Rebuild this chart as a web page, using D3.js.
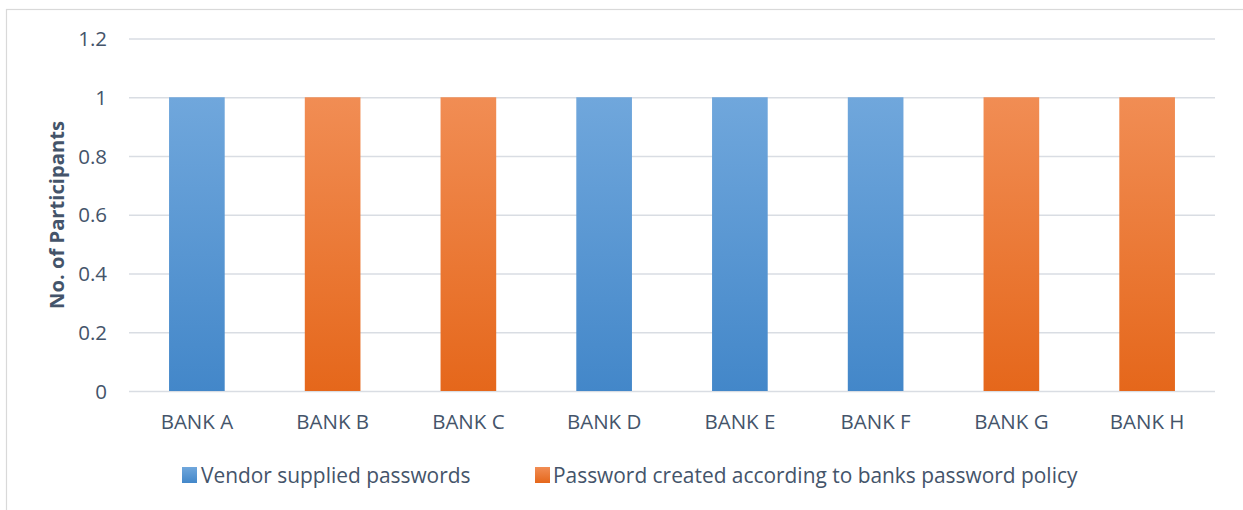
<!DOCTYPE html>
<html>
<head>
<meta charset="utf-8">
<script src="https://cdn.jsdelivr.net/npm/d3@7"></script>
<style>
  html, body { margin: 0; padding: 0; background: #fff; }
  svg { display: block; }
  text { font-family: "Open Sans", "Noto Sans", sans-serif; fill: #44546a; }
</style>
</head>
<body>
<svg id="chart" width="1243" height="510"></svg>
<script>
// Categories and series
const banks = ["BANK A", "BANK B", "BANK C", "BANK D", "BANK E", "BANK F", "BANK G", "BANK H"];
const seriesNames = ["Vendor supplied passwords", "Password created according to banks password policy"];
// which series each bank belongs to (0 = vendor, 1 = bank policy)
const bankSeries = [0, 1, 1, 0, 0, 0, 1, 1];
const participants = [1, 1, 1, 1, 1, 1, 1, 1];
const yTicks = [0, 0.2, 0.4, 0.6, 0.8, 1, 1.2];
const yTitle = "No. of Participants";

const svg = d3.select("#chart");
const W = 1243, H = 510;

// outer chart frame
svg.append("rect")
  .attr("x", 6.5).attr("y", 9.5)
  .attr("width", W + 10).attr("height", H + 10)
  .attr("fill", "#fff").attr("stroke", "#d9d9d9").attr("stroke-width", 1.2);

const plot = { left: 129, right: 1215, top: 38.5, bottom: 391 };

const x = d3.scaleBand()
  .domain(banks)
  .range([plot.left, plot.right])
  .paddingInner(0.59)
  .paddingOuter(0.295);

const y = d3.scaleLinear()
  .domain([0, 1.2])
  .range([plot.bottom, plot.top]);

// gradients
const defs = svg.append("defs");
const grads = [
  { id: "g0", top: "#70a7dc", bottom: "#4387c9" },
  { id: "g1", top: "#f18d54", bottom: "#e5671b" }
];
grads.forEach(g => {
  const lg = defs.append("linearGradient")
    .attr("id", g.id)
    .attr("gradientUnits", "userSpaceOnUse")
    .attr("x1", 0).attr("x2", 0)
    .attr("y1", y(1)).attr("y2", y(0));
  lg.append("stop").attr("offset", "0%").attr("stop-color", g.top);
  lg.append("stop").attr("offset", "100%").attr("stop-color", g.bottom);
});

// gridlines
const yAxis = d3.axisLeft(y)
  .tickValues(yTicks)
  .tickSize(-(plot.right - plot.left))
  .tickPadding(22)
  .tickFormat(d => d3.format("~g")(d));

const ga = svg.append("g")
  .attr("transform", `translate(${plot.left},0)`)
  .call(yAxis);
ga.select(".domain").remove();
ga.selectAll(".tick line")
  .attr("stroke", "#d9dde3").attr("stroke-width", 1.6);
ga.selectAll(".tick text")
  .attr("font-size", 20.5)
  .attr("fill", "#44546a")
  .attr("dy", "0.35em");

// bars
svg.append("g").selectAll("rect")
  .data(banks)
  .join("rect")
  .attr("x", d => x(d))
  .attr("width", x.bandwidth())
  .attr("y", (d, i) => y(participants[i]))
  .attr("height", (d, i) => y(0) - y(participants[i]))
  .attr("fill", (d, i) => `url(#g${bankSeries[i]})`);

// x axis labels
const xAxis = d3.axisBottom(x).tickSize(0).tickPadding(23);
const gx = svg.append("g")
  .attr("transform", `translate(0,${plot.bottom})`)
  .call(xAxis);
gx.select(".domain").remove();
gx.selectAll(".tick text")
  .attr("font-size", 20.5)
  .attr("fill", "#44546a");

// y axis title
svg.append("text")
  .attr("transform", `translate(64,215) rotate(-90)`)
  .attr("text-anchor", "middle")
  .attr("font-size", 20.2)
  .attr("font-weight", "bold")
  .text(yTitle);

// legend
const legendItems = [
  { name: seriesNames[0], sx: 182, tx: 201 },
  { name: seriesNames[1], sx: 535, tx: 553 }
];
const lg = svg.append("g");
legendItems.forEach((d, i) => {
  lg.append("rect")
    .attr("x", d.sx).attr("y", 467)
    .attr("width", 15).attr("height", 16)
    .attr("fill", `url(#lg${i})`);
  const l = defs.append("linearGradient")
    .attr("id", "lg" + i)
    .attr("x1", 0).attr("x2", 0).attr("y1", 0).attr("y2", 1);
  l.append("stop").attr("offset", "0%").attr("stop-color", grads[i].top);
  l.append("stop").attr("offset", "100%").attr("stop-color", grads[i].bottom);
  lg.append("text")
    .attr("x", d.tx).attr("y", 483)
    .attr("font-size", 20.9)
    .text(d.name);
});
</script>
</body>
</html>
